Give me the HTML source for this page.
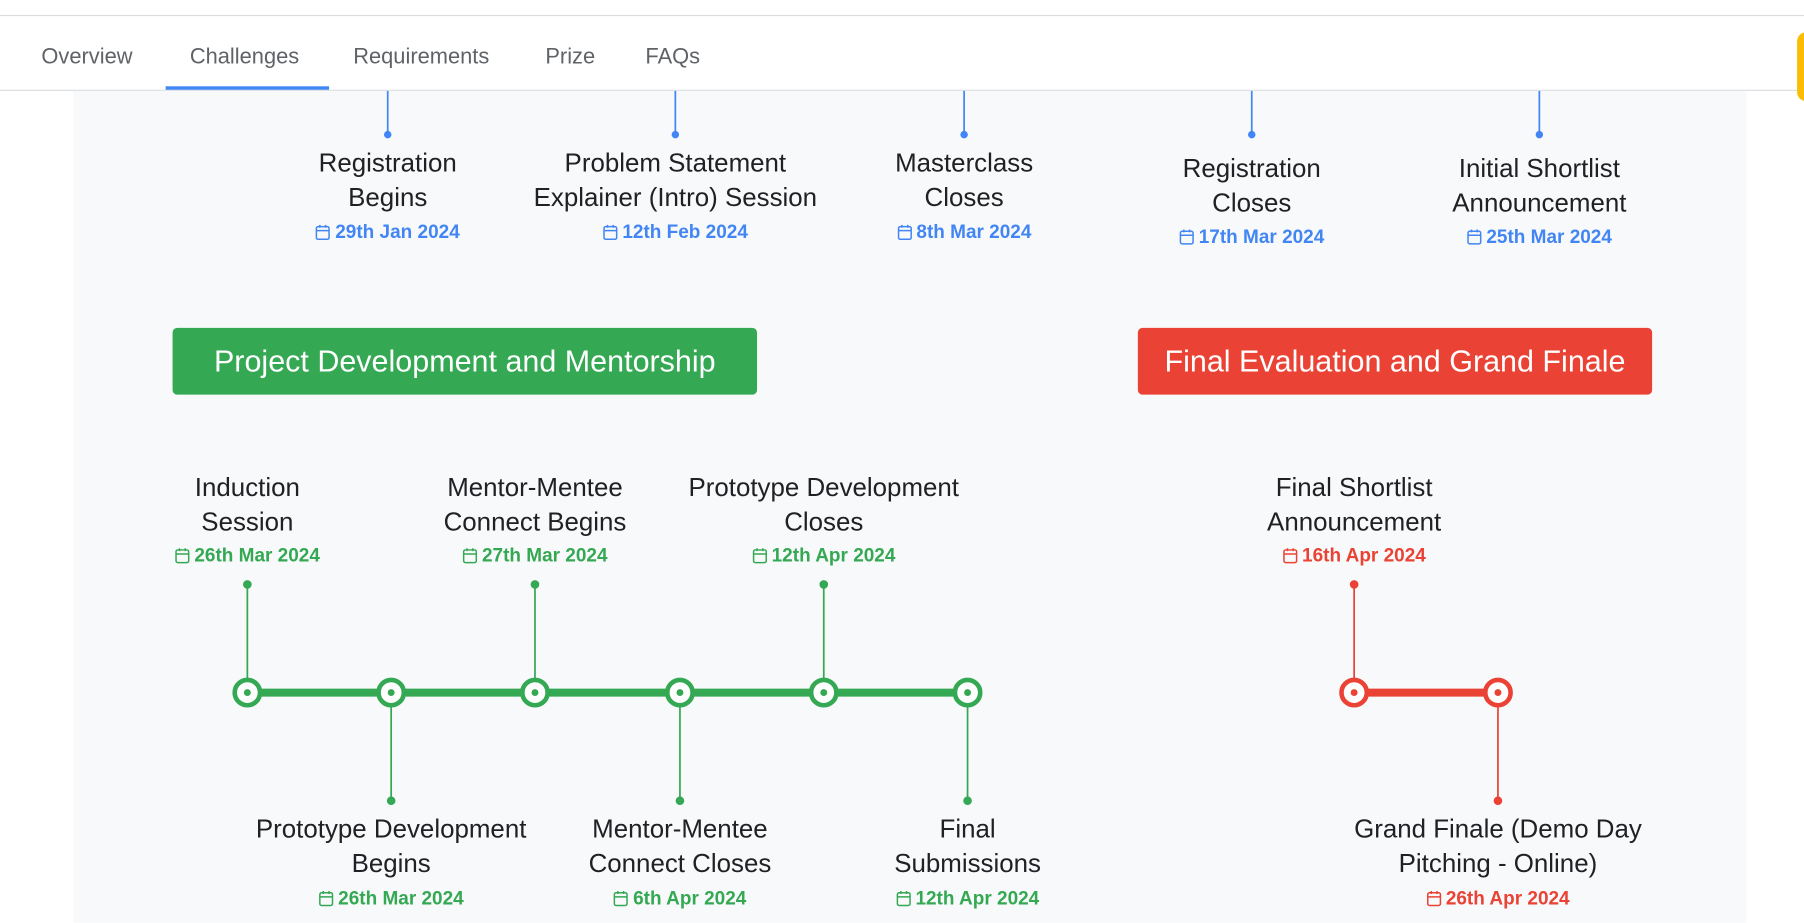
<!DOCTYPE html>
<html><head><meta charset="utf-8"><style>
html,body{margin:0;padding:0;background:#fff;overflow:hidden;width:1804px;height:923px}
#w{position:absolute;left:0;top:0;width:1568px;height:802px;transform:scale(1.1505);transform-origin:0 0;font-family:"Liberation Sans",sans-serif}
.a{position:absolute}
.tab{position:absolute;top:39px;font-size:19px;color:#5f6368;white-space:nowrap}
.lbl{position:absolute;width:300px;margin-left:-150px;text-align:center;font-size:22.5px;line-height:30px;color:#202124}
.dt{font-size:16.5px;font-weight:bold;line-height:30px;white-space:nowrap}
.dt svg{vertical-align:-2px;margin-right:4px}
.b{color:#4285f4}.g{color:#34a853}.r{color:#ea4335}
.box{position:absolute;top:285px;height:58px;border-radius:4px;color:#fff;font-size:26.5px;line-height:58px;text-align:center}
</style></head><body><div id="w">
<div class="a" style="left:0;top:13px;width:1568px;height:1px;background:#dadce0"></div>
<div class="a" style="left:0;top:78px;width:1568px;height:1px;background:#dadce0"></div>
<div class="a" style="left:64px;top:79px;width:1454px;height:723px;background:#f8f9fa"></div>
<div class="tab" style="left:36px">Overview</div>
<div class="tab" style="left:165px">Challenges</div>
<div class="tab" style="left:307px">Requirements</div>
<div class="tab" style="left:474px">Prize</div>
<div class="tab" style="left:561px">FAQs</div>
<div class="a" style="left:144px;top:75px;width:142px;height:3px;background:#4285f4"></div>
<div class="a" style="left:1562px;top:28px;width:20px;height:60px;border-radius:8px;background:#fbbc04"></div>

<svg class="a" style="left:0;top:0" width="1568" height="802">
<g stroke="#4285f4" stroke-width="1.5" fill="#4285f4">
<line x1="337" y1="79" x2="337" y2="117"/><circle cx="337" cy="117" r="2.5"/>
<line x1="587" y1="79" x2="587" y2="117"/><circle cx="587" cy="117" r="2.5"/>
<line x1="838" y1="79" x2="838" y2="117"/><circle cx="838" cy="117" r="2.5"/>
<line x1="1088" y1="79" x2="1088" y2="117"/><circle cx="1088" cy="117" r="2.5"/>
<line x1="1338" y1="79" x2="1338" y2="117"/><circle cx="1338" cy="117" r="2.5"/>
</g>
<g stroke="#34a853" stroke-width="1.5" fill="#34a853">
<line x1="215" y1="508" x2="215" y2="602"/><circle cx="215" cy="508" r="3"/>
<line x1="465" y1="508" x2="465" y2="602"/><circle cx="465" cy="508" r="3"/>
<line x1="716" y1="508" x2="716" y2="602"/><circle cx="716" cy="508" r="3"/>
<line x1="340" y1="602" x2="340" y2="696"/><circle cx="340" cy="696" r="3"/>
<line x1="591" y1="602" x2="591" y2="696"/><circle cx="591" cy="696" r="3"/>
<line x1="841" y1="602" x2="841" y2="696"/><circle cx="841" cy="696" r="3"/>
</g>
<line x1="215" y1="602" x2="841" y2="602" stroke="#34a853" stroke-width="7"/>
<g stroke="#34a853" stroke-width="4" fill="#fff">
<circle cx="215" cy="602" r="11"/><circle cx="340" cy="602" r="11"/><circle cx="465" cy="602" r="11"/><circle cx="591" cy="602" r="11"/><circle cx="716" cy="602" r="11"/><circle cx="841" cy="602" r="11"/>
</g>
<g fill="#34a853"><circle cx="215" cy="602" r="3"/><circle cx="340" cy="602" r="3"/><circle cx="465" cy="602" r="3"/><circle cx="591" cy="602" r="3"/><circle cx="716" cy="602" r="3"/><circle cx="841" cy="602" r="3"/></g>
<g stroke="#ea4335" stroke-width="1.5" fill="#ea4335">
<line x1="1177" y1="508" x2="1177" y2="602"/><circle cx="1177" cy="508" r="3"/>
<line x1="1302" y1="602" x2="1302" y2="696"/><circle cx="1302" cy="696" r="3"/>
</g>
<line x1="1177" y1="602" x2="1302" y2="602" stroke="#ea4335" stroke-width="7"/>
<g stroke="#ea4335" stroke-width="4" fill="#fff"><circle cx="1177" cy="602" r="11"/><circle cx="1302" cy="602" r="11"/></g>
<g fill="#ea4335"><circle cx="1177" cy="602" r="3"/><circle cx="1302" cy="602" r="3"/></g>
</svg>

<div class="box" style="left:150px;width:508px;background:#34a853">Project Development and Mentorship</div>
<div class="box" style="left:989px;width:447px;background:#ea4335">Final Evaluation and Grand Finale</div>

<div class="lbl" style="left:337px;top:127px">Registration<br>Begins<div class="dt b"><svg width="13" height="14" viewBox="0 0 13 14" fill="none" stroke="currentColor" stroke-width="1.3"><rect x="1" y="2" width="11" height="11" rx="1.5"/><line x1="1" y1="5.5" x2="12" y2="5.5"/><line x1="4" y1="0.5" x2="4" y2="3"/><line x1="9" y1="0.5" x2="9" y2="3"/></svg>29th Jan 2024</div></div>
<div class="lbl" style="left:587px;top:127px">Problem Statement<br>Explainer (Intro) Session<div class="dt b"><svg width="13" height="14" viewBox="0 0 13 14" fill="none" stroke="currentColor" stroke-width="1.3"><rect x="1" y="2" width="11" height="11" rx="1.5"/><line x1="1" y1="5.5" x2="12" y2="5.5"/><line x1="4" y1="0.5" x2="4" y2="3"/><line x1="9" y1="0.5" x2="9" y2="3"/></svg>12th Feb 2024</div></div>
<div class="lbl" style="left:838px;top:127px">Masterclass<br>Closes<div class="dt b"><svg width="13" height="14" viewBox="0 0 13 14" fill="none" stroke="currentColor" stroke-width="1.3"><rect x="1" y="2" width="11" height="11" rx="1.5"/><line x1="1" y1="5.5" x2="12" y2="5.5"/><line x1="4" y1="0.5" x2="4" y2="3"/><line x1="9" y1="0.5" x2="9" y2="3"/></svg>8th Mar 2024</div></div>
<div class="lbl" style="left:1088px;top:132px">Registration<br>Closes<div class="dt b" style="line-height:28px"><svg width="13" height="14" viewBox="0 0 13 14" fill="none" stroke="currentColor" stroke-width="1.3"><rect x="1" y="2" width="11" height="11" rx="1.5"/><line x1="1" y1="5.5" x2="12" y2="5.5"/><line x1="4" y1="0.5" x2="4" y2="3"/><line x1="9" y1="0.5" x2="9" y2="3"/></svg>17th Mar 2024</div></div>
<div class="lbl" style="left:1338px;top:132px">Initial Shortlist<br>Announcement<div class="dt b" style="line-height:28px"><svg width="13" height="14" viewBox="0 0 13 14" fill="none" stroke="currentColor" stroke-width="1.3"><rect x="1" y="2" width="11" height="11" rx="1.5"/><line x1="1" y1="5.5" x2="12" y2="5.5"/><line x1="4" y1="0.5" x2="4" y2="3"/><line x1="9" y1="0.5" x2="9" y2="3"/></svg>25th Mar 2024</div></div>

<div class="lbl" style="left:215px;top:409px">Induction<br>Session<div class="dt g" style="line-height:28px"><svg width="13" height="14" viewBox="0 0 13 14" fill="none" stroke="currentColor" stroke-width="1.3"><rect x="1" y="2" width="11" height="11" rx="1.5"/><line x1="1" y1="5.5" x2="12" y2="5.5"/><line x1="4" y1="0.5" x2="4" y2="3"/><line x1="9" y1="0.5" x2="9" y2="3"/></svg>26th Mar 2024</div></div>
<div class="lbl" style="left:465px;top:409px">Mentor-Mentee<br>Connect Begins<div class="dt g" style="line-height:28px"><svg width="13" height="14" viewBox="0 0 13 14" fill="none" stroke="currentColor" stroke-width="1.3"><rect x="1" y="2" width="11" height="11" rx="1.5"/><line x1="1" y1="5.5" x2="12" y2="5.5"/><line x1="4" y1="0.5" x2="4" y2="3"/><line x1="9" y1="0.5" x2="9" y2="3"/></svg>27th Mar 2024</div></div>
<div class="lbl" style="left:716px;top:409px">Prototype Development<br>Closes<div class="dt g" style="line-height:28px"><svg width="13" height="14" viewBox="0 0 13 14" fill="none" stroke="currentColor" stroke-width="1.3"><rect x="1" y="2" width="11" height="11" rx="1.5"/><line x1="1" y1="5.5" x2="12" y2="5.5"/><line x1="4" y1="0.5" x2="4" y2="3"/><line x1="9" y1="0.5" x2="9" y2="3"/></svg>12th Apr 2024</div></div>
<div class="lbl" style="left:1177px;top:409px">Final Shortlist<br>Announcement<div class="dt r" style="line-height:28px"><svg width="13" height="14" viewBox="0 0 13 14" fill="none" stroke="currentColor" stroke-width="1.3"><rect x="1" y="2" width="11" height="11" rx="1.5"/><line x1="1" y1="5.5" x2="12" y2="5.5"/><line x1="4" y1="0.5" x2="4" y2="3"/><line x1="9" y1="0.5" x2="9" y2="3"/></svg>16th Apr 2024</div></div>

<div class="lbl" style="left:340px;top:706px">Prototype Development<br>Begins<div class="dt g"><svg width="13" height="14" viewBox="0 0 13 14" fill="none" stroke="currentColor" stroke-width="1.3"><rect x="1" y="2" width="11" height="11" rx="1.5"/><line x1="1" y1="5.5" x2="12" y2="5.5"/><line x1="4" y1="0.5" x2="4" y2="3"/><line x1="9" y1="0.5" x2="9" y2="3"/></svg>26th Mar 2024</div></div>
<div class="lbl" style="left:591px;top:706px">Mentor-Mentee<br>Connect Closes<div class="dt g"><svg width="13" height="14" viewBox="0 0 13 14" fill="none" stroke="currentColor" stroke-width="1.3"><rect x="1" y="2" width="11" height="11" rx="1.5"/><line x1="1" y1="5.5" x2="12" y2="5.5"/><line x1="4" y1="0.5" x2="4" y2="3"/><line x1="9" y1="0.5" x2="9" y2="3"/></svg>6th Apr 2024</div></div>
<div class="lbl" style="left:841px;top:706px">Final<br>Submissions<div class="dt g"><svg width="13" height="14" viewBox="0 0 13 14" fill="none" stroke="currentColor" stroke-width="1.3"><rect x="1" y="2" width="11" height="11" rx="1.5"/><line x1="1" y1="5.5" x2="12" y2="5.5"/><line x1="4" y1="0.5" x2="4" y2="3"/><line x1="9" y1="0.5" x2="9" y2="3"/></svg>12th Apr 2024</div></div>
<div class="lbl" style="left:1302px;top:706px">Grand Finale (Demo Day<br>Pitching - Online)<div class="dt r"><svg width="13" height="14" viewBox="0 0 13 14" fill="none" stroke="currentColor" stroke-width="1.3"><rect x="1" y="2" width="11" height="11" rx="1.5"/><line x1="1" y1="5.5" x2="12" y2="5.5"/><line x1="4" y1="0.5" x2="4" y2="3"/><line x1="9" y1="0.5" x2="9" y2="3"/></svg>26th Apr 2024</div></div>
</div></body></html>
